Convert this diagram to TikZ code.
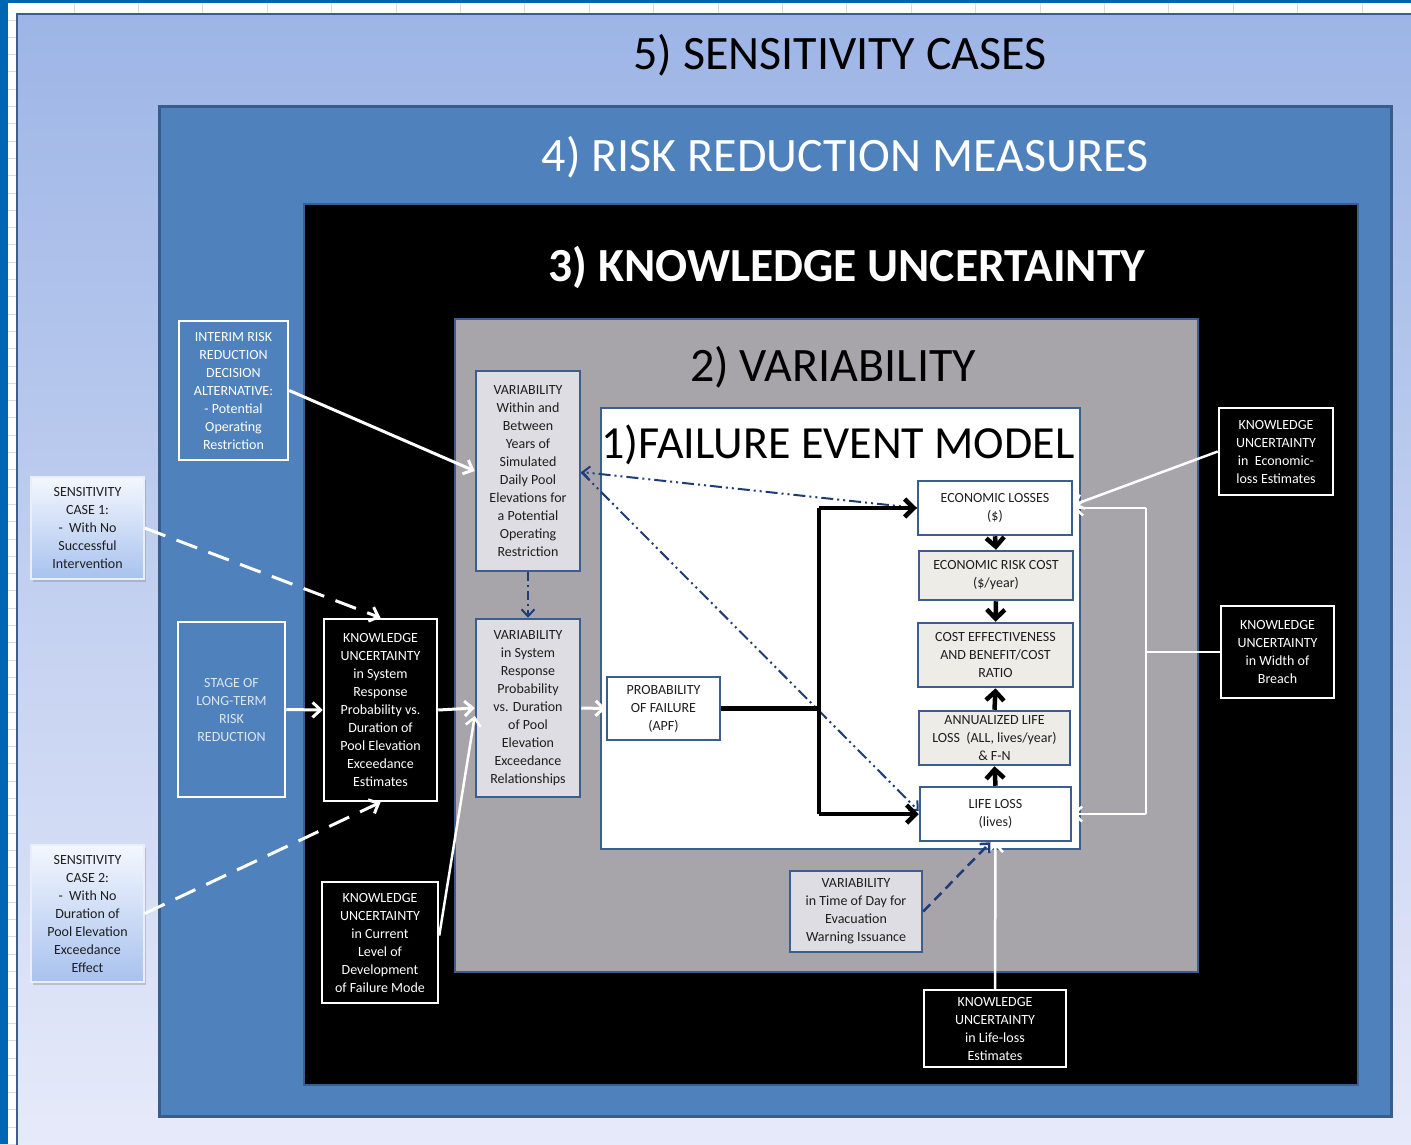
\documentclass[tikz,border=0pt]{standalone}
\usepackage{fontspec}
\setmainfont{Carlito}
\usetikzlibrary{arrows.meta,shadows,calc}
\definecolor{bord}{HTML}{3B5E8C}
\definecolor{xlblue}{HTML}{0066B3}
\definecolor{gridc}{HTML}{DCDCE6}
\definecolor{midblue}{HTML}{4F81BD}
\definecolor{grayb}{HTML}{A7A5AA}
\definecolor{varfill}{HTML}{DEDDE3}
\definecolor{beige}{HTML}{EEECE6}
\definecolor{dkb}{HTML}{1F3C78}
\definecolor{txt}{HTML}{1E1E1E}
\definecolor{sctop}{HTML}{F4F7FE}
\definecolor{scbot}{HTML}{A8C2EE}
\definecolor{scdraw}{HTML}{E8EEFA}
\definecolor{bfour}{HTML}{385D8A}
\definecolor{fivetop}{HTML}{9DB5E6}
\definecolor{fivebot}{HTML}{E8EBFA}
\definecolor{stagetxt}{HTML}{DCE6F2}
\newcommand\nf{\fontsize{14}{18}\selectfont}
\begin{document}
\begin{tikzpicture}[x=1pt,y=-1pt,
  sz/.style 2 args={minimum width=#1, minimum height=#2},
  basebox/.style={inner sep=0pt, align=center, font=\nf, line width=2.5pt},
  kubox/.style={basebox, fill=black, draw=white, text=white},
  bluebox/.style={basebox, fill=midblue, draw=white, text=white},
  varbox/.style={basebox, fill=varfill, draw=bord, text=txt},
  wbox/.style={basebox, fill=white, draw=bord, text=txt},
  bgbox/.style={basebox, fill=beige, draw=bord, text=txt},
  scbox/.style={basebox, line width=1.5pt, draw=scdraw, top color=sctop, bottom color=scbot, text=txt,
     drop shadow={opacity=0.35, shadow xshift=2pt, shadow yshift=-3pt}},
  wa/.style={draw=white, line width=3pt, -{Straight Barb[length=8pt,width=15pt]}},
  wthin/.style={draw=white, line width=2.5pt},
  wdash/.style={wa, dash pattern=on 22pt off 12pt},
  ba/.style={draw=black, line width=4.5pt, -{Straight Barb[length=9pt,width=18pt]}},
  ddd/.style={draw=dkb, line width=2pt, dash pattern=on 12pt off 4pt on 2pt off 4pt on 2pt off 4pt},
  dtip/.style={-{Straight Barb[length=7pt,width=13pt]}},
  title/.style={font=\fontsize{48}{50}\selectfont, inner sep=0pt}
]
\useasboundingbox (0,0) rectangle (1411,1144);
\clip (0,0) rectangle (1411,1144);
\fill[white] (0,0) rectangle (1411,1144);
\foreach \i in {0,...,21} \draw[gridc, line width=1pt] (74+64.4*\i,0) -- ++(0,1144);
\foreach \i in {0,...,66} \draw[gridc, line width=1pt] (0,20+17.3*\i) -- ++(1411,0);
\fill[xlblue] (0,0) rectangle (8,1144);
\fill[xlblue] (0,0) rectangle (1411,3);
% box 5
\draw[bord, line width=2.5pt, top color=fivetop, bottom color=fivebot] (17,14) rectangle (1440,1170);
\node[title, text=black] at (840,55) {5) SENSITIVITY CASES};
% box 4
\draw[draw=bfour, line width=3pt, fill=midblue] (159,106) rectangle (1391,1116);
\node[title, text=white] at (845,157) {4) RISK REDUCTION MEASURES};
% box 3
\draw[draw=bord, line width=2pt, fill=black] (304,204) rectangle (1358,1085);
\node[title, text=white, font=\fontsize{47.5}{50}\selectfont\bfseries] at (847,267) {3) KNOWLEDGE UNCERTAINTY};
% box 2
\draw[draw=bord, line width=2.5pt, fill=grayb] (455,319) rectangle (1198,972);
\node[title, text=black] at (833,367) {2) VARIABILITY};
% box 1
\draw[draw=bord, line width=2.5pt, fill=white] (601,408) rectangle (1080,849);
\node[title, text=black, font=\fontsize{46}{50}\selectfont] at (838,445) {1)FAILURE EVENT MODEL};

% nodes
\node[bluebox, sz={109}{139}] (interim) at (233.5,390.5) {INTERIM RISK\\REDUCTION\\DECISION\\ALTERNATIVE:\\- Potential\\Operating\\Restriction};
\node[scbox, sz={113}{102}] (sc1) at (87.5,528) {SENSITIVITY\\CASE 1:\\- \ With No\\Successful\\Intervention};
\node[scbox, sz={113}{137}] (sc2) at (87.5,913.5) {SENSITIVITY\\CASE 2:\\- \ With No\\Duration of\\Pool Elevation\\Exceedance\\Effect};
\node[bluebox, sz={107}{175}, text=stagetxt] (stage) at (231.5,709.5) {STAGE OF\\LONG-TERM\\RISK\\REDUCTION};
\node[kubox, sz={113}{182}] (kusys) at (380.5,710) {KNOWLEDGE\\UNCERTAINTY\\in System\\Response\\Probability vs.\\Duration of\\Pool Elevation\\Exceedance\\Estimates};
\node[kubox, sz={116}{121}] (kucur) at (380,942.5) {KNOWLEDGE\\UNCERTAINTY\\in Current\\Level of\\Development\\of Failure Mode};
\node[varbox, sz={104}{200}] (varwithin) at (528,471) {VARIABILITY\\Within and\\Between\\Years of\\Simulated\\Daily Pool\\Elevations for\\a Potential\\Operating\\Restriction};
\node[varbox, sz={104}{178}] (varsys) at (528,708) {VARIABILITY\\in System\\Response\\Probability\\vs. Duration\\of Pool\\Elevation\\Exceedance\\Relationships};
\node[wbox, sz={113}{63}] (pof) at (663.5,708.5) {PROBABILITY\\OF FAILURE\\(APF)};
\node[wbox, sz={154}{54}] (econ) at (995,508) {ECONOMIC LOSSES\\(\$)};
\node[bgbox, sz={154}{49}] (erc) at (996,575.5) {ECONOMIC RISK COST\\(\$/year)};
\node[bgbox, sz={155}{64}] (ce) at (995.5,655) {COST EFFECTIVENESS\\AND BENEFIT/COST\\RATIO};
\node[bgbox, sz={151}{54}] (ann) at (994.5,738) {ANNUALIZED LIFE\\LOSS \ (ALL, lives/year)\\\& F-N};
\node[wbox, sz={151}{54}] (life) at (995.5,814) {LIFE LOSS\\(lives)};
\node[kubox, sz={114}{87}] (kuecon) at (1276,451.5) {KNOWLEDGE\\UNCERTAINTY\\in \ Economic-\\loss Estimates};
\node[kubox, sz={113}{92}] (kuwidth) at (1277.5,652) {KNOWLEDGE\\UNCERTAINTY\\in Width of\\Breach};
\node[varbox, sz={132}{81}] (vartime) at (856,911.5) {VARIABILITY\\in Time of Day for\\Evacuation\\Warning Issuance};
\node[kubox, sz={142}{77}] (kulife) at (995,1028.5) {KNOWLEDGE\\UNCERTAINTY\\in Life-loss\\Estimates};

% white connectors
\draw[wa] (interim.east) -- (varwithin.west);
\draw[wdash] (sc1.east) -- (kusys.north);
\draw[wdash] (sc2.east) -- (kusys.south);
\draw[wa] (stage.east) -- (kusys.west);
\draw[wa] (kusys.east) -- (varsys.west);
\draw[wa, line width=2.5pt] ([yshift=7pt]kucur.east) -- ([yshift=-8pt]varsys.west);
\draw[wa] (varsys.east) -- (pof.west);
\draw[wa, line width=2.5pt] (kuecon.west) -- ([yshift=3pt]econ.east);
\coordinate (rj) at (1146,652);
\draw[wthin] (kuwidth.west) -- (rj);
\draw[wthin] (rj |- econ.east) -- (rj |- life.east);
\draw[wa, line width=2.5pt] (rj |- econ.east) -- (econ.east);
\draw[wa, line width=2.5pt] (rj |- life.east) -- (life.east);
\draw[wa, line width=2.5pt] (kulife.north) -- (life.south);

% dark blue connectors
\draw[draw=dkb, line width=2pt, dash pattern=on 9pt off 4pt on 2pt off 4pt, dtip] (varwithin.south) -- (varsys.north);
\draw[ddd, dtip] (econ.west) -- ([yshift=-1pt]varwithin.east);
\draw[ddd, dtip] ([yshift=-1pt]varwithin.east) -- ([yshift=3pt]life.west);
\draw[draw=dkb, line width=2.5pt, dash pattern=on 10pt off 6pt, dtip] (vartime.east) -- ([xshift=-5pt]life.south);

% black connectors
\coordinate (bj) at (819,708.5);
\draw[black, line width=4.5pt] (pof.east) -- (bj);
\draw[black, line width=4.5pt] (bj |- econ.west) -- (bj |- life.west);
\draw[ba] (bj |- econ.west) -- (econ.west);
\draw[ba] (bj |- life.west) -- (life.west);
\draw[ba] (econ.south) -- (erc.north);
\draw[ba] (erc.south) -- (ce.north);
\draw[ba] (ann.north) -- (ce.south);
\draw[ba] (life.north) -- (ann.south);
\end{tikzpicture}
\end{document}
